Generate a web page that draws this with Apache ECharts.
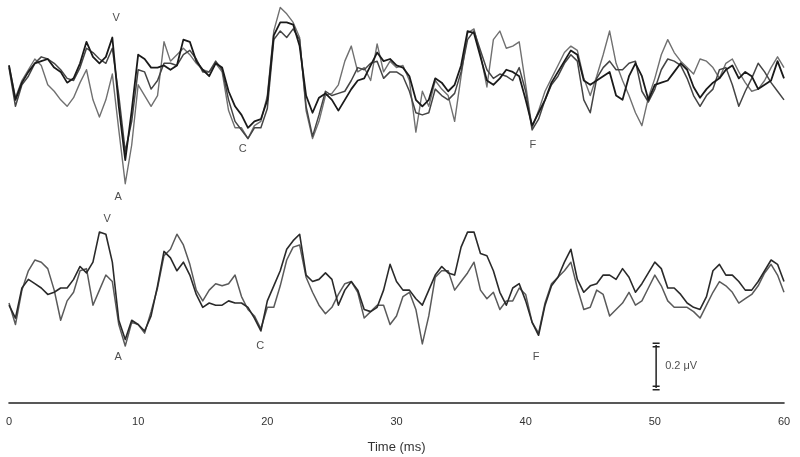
<!DOCTYPE html>
<html><head><meta charset="utf-8">
<script src="https://cdn.jsdelivr.net/npm/echarts@6/dist/echarts.min.js"></script>
<style>html,body{margin:0;padding:0;background:#fff}#c{width:800px;height:457px}</style>
</head><body><div id="c"></div>
<script>
// Time samples (ms)
const timeMs = [0,0.5,1,1.5,2,2.5,3,3.5,4,4.5,5,5.5,6,6.5,7,7.5,8,8.5,9,9.5,
 10,10.5,11,11.5,12,12.5,13,13.5,14,14.5,15,15.5,16,16.5,17,17.5,18,18.5,19,19.5,
 20,20.5,21,21.5,22,22.5,23,23.5,24,24.5,25,25.5,26,26.5,27,27.5,28,28.5,29,29.5,
 30,30.5,31,31.5,32,32.5,33,33.5,34,34.5,35,35.5,36,36.5,37,37.5,38,38.5,39,39.5,
 40,40.5,41,41.5,42,42.5,43,43.5,44,44.5,45,45.5,46,46.5,47,47.5,48,48.5,49,49.5,
 50,50.5,51,51.5,52,52.5,53,53.5,54,54.5,55,55.5,56,56.5,57,57.5,58,58.5,59,59.5,60];

// Upper recordings (µV, relative to the trace baseline)
const upperTrace1 = [0.07,-0.09,-0.01,0.04,0.08,0.09,0.10,0.06,0.04,-0.01,
 0.01,0.08,0.18,0.11,0.08,0.11,0.20,-0.12,-0.37,-0.14,
 0.12,0.10,0.06,0.06,0.07,0.05,0.07,0.19,0.18,0.09,
 0.05,0.02,0.08,0.06,-0.05,-0.12,-0.16,-0.22,-0.19,-0.18,
 -0.09,0.21,0.27,0.27,0.26,0.16,-0.07,-0.15,-0.08,-0.06,
 -0.09,-0.14,-0.09,-0.04,0.00,0.01,0.07,0.13,0.09,0.10,
 0.07,0.06,0.02,-0.09,-0.12,-0.09,0.01,-0.01,-0.05,-0.02,
 0.07,0.23,0.22,0.11,0.00,-0.02,0.01,0.05,0.04,0.02,
 -0.09,-0.21,-0.15,-0.09,-0.01,0.04,0.09,0.14,0.12,0.00,
 -0.02,0.00,0.02,0.04,-0.07,-0.09,0.02,0.08,0.02,-0.09,
 -0.02,-0.01,0.00,0.04,0.08,0.05,-0.03,-0.08,-0.04,-0.01,
 0.01,0.05,0.07,0.01,0.04,0.02,-0.04,-0.02,0.00,0.09,
 0.01];
const upperTrace2 = [0.06,-0.12,-0.02,0.02,0.08,0.11,0.10,0.08,0.05,0.01,
 0.00,0.06,0.15,0.13,0.10,0.08,0.15,-0.07,-0.33,-0.19,
 0.05,0.04,-0.04,0.00,0.08,0.08,0.07,0.12,0.14,0.10,
 0.04,0.04,0.09,0.05,-0.09,-0.19,-0.23,-0.27,-0.22,-0.22,
 -0.13,0.19,0.23,0.20,0.24,0.19,-0.12,-0.26,-0.16,-0.05,
 -0.07,-0.06,-0.05,0.00,0.06,0.05,0.08,0.09,0.01,0.04,
 0.04,0.02,-0.05,-0.15,-0.16,-0.15,-0.04,-0.07,-0.09,-0.06,
 0.04,0.19,0.23,0.14,0.05,0.01,0.03,0.02,0.00,0.06,
 -0.05,-0.23,-0.18,-0.09,-0.02,0.02,0.08,0.12,0.09,-0.09,
 -0.15,0.01,0.06,0.09,0.05,0.05,0.08,0.09,-0.05,-0.10,
 -0.04,0.05,0.10,0.09,0.07,0.01,-0.07,-0.12,-0.07,-0.04,
 0.05,0.06,-0.02,-0.12,-0.05,0.01,0.08,0.04,-0.01,-0.05,
 -0.09];
const upperTrace3 = [0.07,-0.08,0.00,0.05,0.10,0.07,-0.02,-0.05,-0.09,-0.12,
 -0.08,-0.01,0.05,-0.09,-0.17,-0.09,0.03,-0.23,-0.48,-0.30,
 -0.02,-0.07,-0.12,-0.07,0.18,0.09,0.12,0.15,0.12,0.08,
 0.05,0.04,0.08,0.04,-0.14,-0.22,-0.22,-0.27,-0.21,-0.19,
 -0.07,0.23,0.34,0.31,0.27,0.20,-0.14,-0.27,-0.19,-0.07,
 -0.06,-0.02,0.09,0.16,0.04,0.06,0.00,0.17,0.04,0.09,
 0.06,0.07,0.00,-0.24,-0.05,-0.12,0.00,-0.04,-0.07,-0.19,
 0.02,0.22,0.24,0.12,-0.03,0.19,0.23,0.15,0.16,0.18,
 -0.02,-0.22,-0.14,-0.05,0.01,0.07,0.13,0.16,0.14,0.01,
 -0.07,0.02,0.12,0.23,0.08,0.00,-0.07,-0.15,-0.21,-0.08,
 0.01,0.12,0.19,0.13,0.09,0.06,0.03,0.10,0.09,0.06,
 0.01,0.08,0.10,0.04,-0.01,-0.05,-0.04,0.00,0.06,0.11,
 0.06];

// Lower recordings (µV, relative to the trace baseline)
const lowerTrace1 = [-0.07,-0.13,0.01,0.05,0.03,0.01,-0.02,-0.01,0.01,0.01,
 0.05,0.11,0.08,0.13,0.27,0.26,0.13,-0.14,-0.23,-0.14,
 -0.16,-0.19,-0.12,0.02,0.18,0.15,0.09,0.13,0.07,-0.02,
 -0.08,-0.06,-0.07,-0.07,-0.05,-0.06,-0.06,-0.08,-0.13,-0.19,
 -0.05,0.02,0.09,0.19,0.23,0.26,0.07,0.04,0.05,0.08,
 0.05,-0.07,0.00,0.04,0.00,-0.09,-0.10,-0.08,0.00,0.12,
 0.04,0.00,0.00,-0.04,-0.07,0.00,0.07,0.11,0.08,0.07,
 0.20,0.27,0.27,0.17,0.16,0.09,-0.01,-0.07,0.01,0.03,
 -0.05,-0.15,-0.21,-0.07,0.02,0.06,0.13,0.19,0.05,-0.01,
 0.02,0.03,0.07,0.07,0.05,0.10,0.06,-0.01,0.03,0.08,
 0.13,0.10,0.01,0.01,-0.02,-0.06,-0.08,-0.09,-0.03,0.09,
 0.12,0.07,0.07,0.04,0.00,0.00,0.04,0.09,0.14,0.12,
 0.04];
const lowerTrace2 = [-0.06,-0.16,0.00,0.09,0.14,0.13,0.10,0.00,-0.14,-0.05,
 -0.01,0.09,0.10,-0.07,0.00,0.07,0.04,-0.16,-0.26,-0.15,
 -0.16,-0.20,-0.10,0.01,0.16,0.19,0.26,0.21,0.12,0.00,
 -0.05,0.00,0.03,0.02,0.03,0.07,-0.03,-0.09,-0.12,-0.18,
 -0.08,-0.08,0.02,0.14,0.20,0.21,0.06,-0.01,-0.07,-0.11,
 -0.08,-0.02,0.03,0.04,-0.01,-0.13,-0.10,-0.07,-0.07,-0.16,
 -0.12,-0.03,-0.01,-0.09,-0.25,-0.12,0.06,0.09,0.09,0.00,
 0.04,0.08,0.13,0.00,-0.04,-0.01,-0.09,-0.05,-0.05,0.01,
 -0.02,-0.15,-0.20,-0.06,0.03,0.06,0.09,0.13,0.01,-0.09,
 -0.08,0.00,-0.02,-0.12,-0.09,-0.06,-0.01,-0.07,-0.05,0.01,
 0.07,0.02,-0.05,-0.08,-0.08,-0.08,-0.10,-0.13,-0.07,-0.01,
 0.04,0.02,-0.01,-0.06,-0.04,-0.02,0.02,0.08,0.12,0.07,
 -0.01];

// Tick labels
const xTickValues = [0,10,20,30,40,50,60];
const xTickLabels = ['0','10','20','30','40','50','60'];
const xAxisTitle = 'Time (ms)';

// Wave labels: name, time (ms), amplitude (µV, relative to the group baseline)
const upperWaveNames = ['V','A','C','F'];
const upperWaveTimes = [8.3, 8.45, 18.1, 40.55];
const upperWaveAmps = [0.29, -0.54, -0.32, -0.30];
const lowerWaveNames = ['V','A','C','F'];
const lowerWaveTimes = [7.6, 8.45, 19.45, 40.8];
const lowerWaveAmps = [0.33, -0.31, -0.26, -0.31];

// Calibration bar
const scaleBarUv = 0.2;
const scaleBarLabel = '0.2 \u03bcV';
const scaleBarTimeMs = 50.1;

// Layout (µV on the hidden vertical axis)
const upperOffset = 1.5;
const lowerOffset = 0.525;
const scaleBarBottom = 0.07;
const yMax = 403 / 215;

const FONT = "'Liberation Sans Narrow','Liberation Sans',Arial,sans-serif";

function trace(vals, offset, color, width, z) {
  return {
    type: 'line', data: timeMs.map((t, i) => [t, +(vals[i] + offset).toFixed(4)]),
    showSymbol: false, symbol: 'none', silent: true, z: z,
    lineStyle: { color: color, width: width, join: 'round' }
  };
}
function waveLabels(names, times, amps, offset) {
  return {
    type: 'scatter', symbolSize: 0, silent: true, z: 10,
    data: names.map((n, i) => ({ value: [times[i], amps[i] + offset], name: n })),
    label: { show: true, position: 'inside', formatter: p => p.name,
      fontFamily: FONT, fontSize: 11, color: '#222' }
  };
}

const chart = echarts.init(document.getElementById('c'), null, { renderer: 'canvas' });
chart.setOption({
  animation: false,
  backgroundColor: '#fff',
  grid: { left: 9, right: 16, top: 0, bottom: 54, containLabel: false, outerBoundsMode: 'none' },
  xAxis: {
    type: 'value', min: 0, max: 60, interval: 10,
    axisLine: { show: true, onZero: false, lineStyle: { color: '#222', width: 1.6 } },
    axisTick: { show: false }, splitLine: { show: false },
    axisLabel: { margin: 13, fontFamily: FONT, fontSize: 11, color: '#333',
      formatter: v => xTickLabels[xTickValues.indexOf(v)] },
    name: xAxisTitle, nameLocation: 'middle', nameGap: 38,
    nameTextStyle: { fontFamily: FONT, fontSize: 13, color: '#333' }
  },
  yAxis: { type: 'value', min: 0, max: yMax, show: false, splitLine: { show: false } },
  series: [
    trace(upperTrace3, upperOffset, '#707070', 1.4, 2),
    trace(upperTrace2, upperOffset, '#454545', 1.5, 3),
    trace(upperTrace1, upperOffset, '#1a1a1a', 1.8, 4),
    trace(lowerTrace2, lowerOffset, '#5a5a5a', 1.5, 2),
    trace(lowerTrace1, lowerOffset, '#2a2a2a', 1.6, 3),
    waveLabels(upperWaveNames, upperWaveTimes, upperWaveAmps, upperOffset),
    waveLabels(lowerWaveNames, lowerWaveTimes, lowerWaveAmps, lowerOffset),
    {
      type: 'line', silent: true, z: 6,
      data: [[scaleBarTimeMs, scaleBarBottom], [scaleBarTimeMs, scaleBarBottom + scaleBarUv]],
      symbol: 'path://M0,0H10V2H0Z M0,5H10V7H0Z', symbolSize: [7, 5], showSymbol: true,
      itemStyle: { color: '#222' }, lineStyle: { color: '#222', width: 1.5 }
    },
    {
      type: 'scatter', symbolSize: 0, silent: true, z: 10,
      data: [{ value: [scaleBarTimeMs, scaleBarBottom + scaleBarUv / 2], name: scaleBarLabel }],
      label: { show: true, position: 'right', distance: 9, formatter: p => p.name,
        fontFamily: FONT, fontSize: 11, color: '#222' }
    }
  ]
});
</script></body></html>
